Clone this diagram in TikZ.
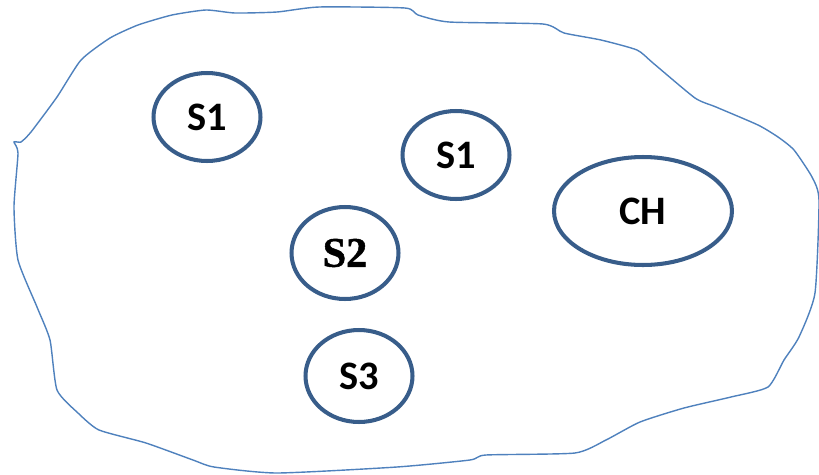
\documentclass[tikz,border=0pt]{standalone}
\usepackage{fontspec}
\setsansfont{Carlito}
\newfontfamily\serifbold{Liberation Serif}[UprightFont=* Bold, FakeBold=1.2]
\usepackage{tikz}
\usetikzlibrary{shapes.geometric}

\definecolor{areablue}{RGB}{79,129,189}
\definecolor{nodeblue}{RGB}{56,93,138}

\tikzset{
  sensor/.style={ellipse, draw=nodeblue, line width=2.3pt, inner sep=0pt,
    minimum width=2.14cm, minimum height=1.76cm,
    font=\sffamily\bfseries\fontsize{23}{26}\selectfont},
  head/.style={sensor, minimum width=3.56cm, minimum height=2.16cm},
}

\begin{document}
\begin{tikzpicture}[x=0.02cm, y=-0.02cm]
  \useasboundingbox (0,0) rectangle (819,474);
  % cluster border
  \draw[areablue, line width=0.8pt] plot[smooth cycle, tension=0.35] coordinates {
    (21,142) (31,132) (57,97) (81,60) (110,38) (138,25) (172,15) (206,10)
    (235,13) (277,12) (319,7) (405,8) (418,15) (449,22) (543,24) (564,33)
    (601,40) (637,50) (653,63) (695,98) (716,107) (758,125) (778,137)
    (794,150) (812,177) (819,200) (815,293) (799,337) (784,360) (768,387)
    (731,397) (684,408) (640,422) (606,440) (575,453) (486,455) (470,460)
    (397,467) (277,473) (214,467) (193,460) (146,443) (99,430) (78,413)
    (57,390) (50,340) (37,307) (18,260) (14,207) (18,153) (14,142)};
  % member nodes
  \node[sensor] (s1a) at (207,117) {S1};
  \node[sensor] (s1b) at (456,155) {S1};
  \node[sensor, minimum height=1.84cm,
        font=\serifbold\fontsize{24}{26}\selectfont] (s2) at (345,253) {S2};
  \node[sensor, minimum height=1.84cm] (s3) at (359,376) {S3};
  % cluster head
  \node[head] (ch) at (643,211) {CH};
\end{tikzpicture}
\end{document}
